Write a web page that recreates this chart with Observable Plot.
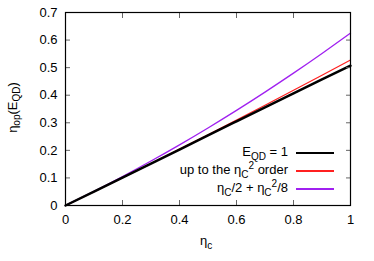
<!DOCTYPE html>
<html><head><meta charset="utf-8">
<script src="https://cdn.jsdelivr.net/npm/d3@7"></script>
<script src="https://cdn.jsdelivr.net/npm/@observablehq/plot@0.6"></script>
<style>
body{margin:0;background:#fff;font-family:"Liberation Sans",Arial,sans-serif;}
#wrap{position:relative;width:374px;height:261px;}
.lab{position:absolute;font-size:13px;color:#000;white-space:nowrap;line-height:1;}
.lab sub,.lab sup{font-size:10px;line-height:0;}
.leg{position:absolute;right:86px;font-size:13px;white-space:nowrap;line-height:1;text-align:right;}
.leg sub,.leg sup{font-size:10px;line-height:0;}
.sw{position:absolute;left:296px;width:38px;}
</style></head><body><div id="wrap"></div>
<script>
const eta = [0, 0.1, 0.2, 0.3, 0.4, 0.5, 0.6, 0.7, 0.8, 0.9, 1];
const exactQD = [0, 0.0503, 0.1010, 0.1519, 0.2030, 0.2542, 0.3053, 0.3563, 0.4070, 0.4573, 0.507];
const secondOrder = [0, 0.0503, 0.1011, 0.1525, 0.2044, 0.2569, 0.3100, 0.3636, 0.4178, 0.4725, 0.5278];
const caExpansion = [0, 0.0513, 0.1050, 0.1613, 0.2200, 0.2813, 0.3450, 0.4113, 0.4800, 0.5513, 0.625];
const xTicks = [0, 0.2, 0.4, 0.6, 0.8, 1];
const yTicks = [0, 0.1, 0.2, 0.3, 0.4, 0.5, 0.6, 0.7];
const seriesKeys = ["exact", "second", "ca"];
const seriesColors = ["#000000", "#ff2020", "#a020f0"];
const seriesWidths = [2.5, 1.2, 1.3];

const rows = [];
const seriesVals = [exactQD, secondOrder, caExpansion];
seriesKeys.forEach((k, i) => eta.forEach((e, j) => rows.push({x: e, y: seriesVals[i][j], s: k})));

const marks = [];
seriesKeys.slice().reverse().forEach((k) => {
  const i = seriesKeys.indexOf(k);
  marks.push(Plot.line(rows.filter(r => r.s === k), {x: "x", y: "y", stroke: seriesColors[i], strokeWidth: seriesWidths[i], curve: "natural"}));
});

const plot = Plot.plot({
  width: 374, height: 261,
  marginLeft: 65, marginRight: 24, marginTop: 12, marginBottom: 56,
  style: {fontFamily: "Liberation Sans, Arial, sans-serif", fontSize: "13px", color: "#000", background: "#fff"},
  x: {domain: [0, 1]},
  y: {domain: [0, 0.7]},
  marks: [
    ...marks,
    Plot.axisX(xTicks, {anchor: "bottom", tickSize: -5, tickPadding: 14, stroke: "#666", fill: "#000", fontSize: 13, label: null, tickFormat: d => String(d)}),
    Plot.axisX(xTicks, {anchor: "top", tickSize: -5, stroke: "#666", tickFormat: () => "", label: null}),
    Plot.axisY(yTicks, {anchor: "left", tickSize: -5, tickPadding: 13, stroke: "#666", fill: "#000", fontSize: 13, label: null, tickFormat: d => String(d)}),
    Plot.axisY(yTicks, {anchor: "right", tickSize: -5, stroke: "#666", tickFormat: () => "", label: null}),
    Plot.frame({stroke: "#000", strokeWidth: 1.2})
  ]
});
const wrap = document.getElementById("wrap");
wrap.appendChild(plot);

function addLabel(html, style, cls) {
  const d = document.createElement("div");
  d.className = cls || "lab";
  d.innerHTML = html;
  Object.assign(d.style, style);
  wrap.appendChild(d);
}
addLabel("η<sub>c</sub>", {left: "200px", top: "234px"});
addLabel("η<sub>op</sub>(E<sub>QD</sub>)", {left: "-38px", top: "101px", width: "100px", textAlign: "center", transform: "rotate(-90deg)", transformOrigin: "center"});
const legendLabels = ["E<sub>QD</sub> = 1", "up to the η<sub>C</sub><sup>2</sup> order", "η<sub>C</sub>/2 + η<sub>C</sub><sup>2</sup>/8"];
const legendY = [153, 171, 189];
legendLabels.forEach((t, i) => {
  addLabel(t, {top: (legendY[i] - 8) + "px"}, "leg");
  const sw = document.createElement("div");
  sw.className = "sw";
  sw.style.top = (legendY[i] - seriesWidths[i] / 2) + "px";
  sw.style.height = seriesWidths[i] + "px";
  sw.style.background = seriesColors[i];
  wrap.appendChild(sw);
});
</script></body></html>
